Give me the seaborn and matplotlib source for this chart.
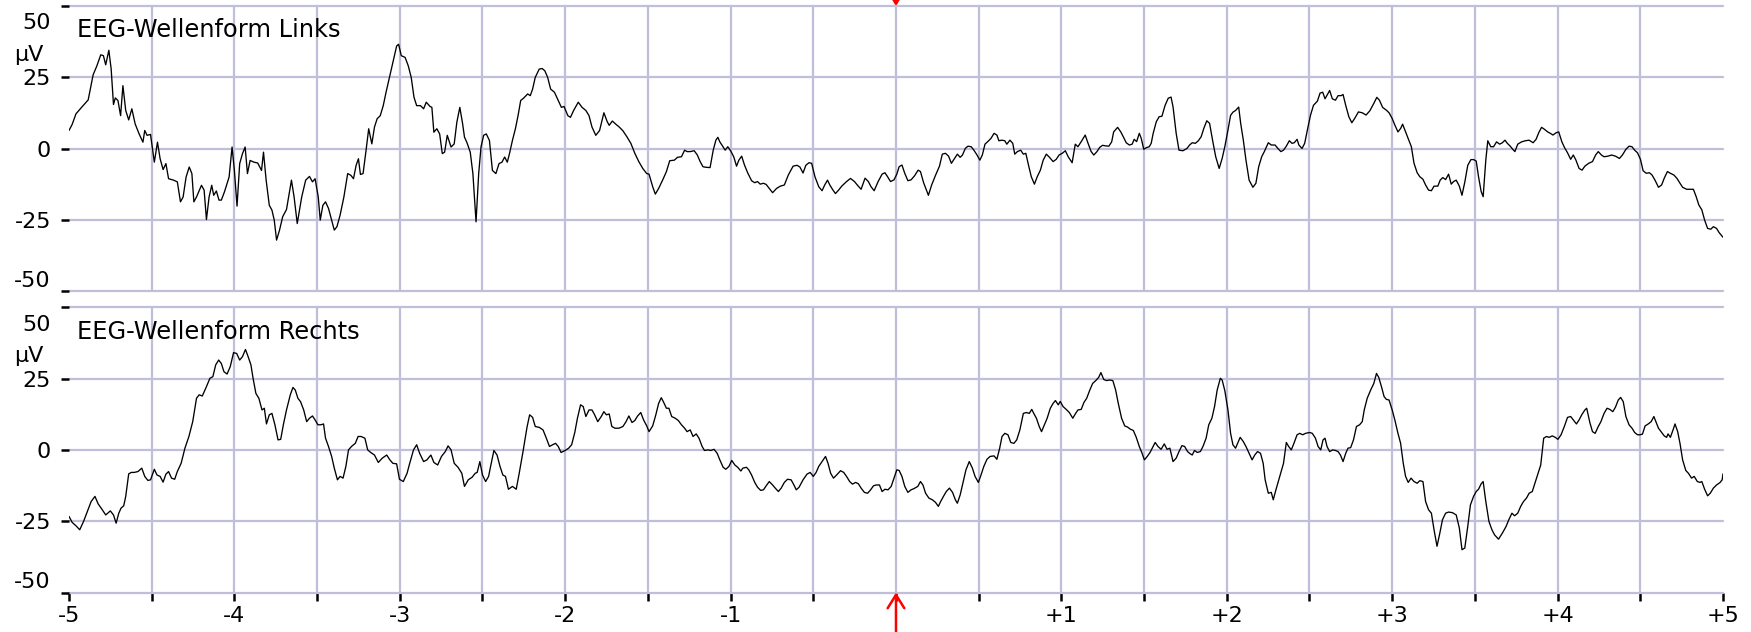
import numpy as np
import pandas as pd
import matplotlib
matplotlib.use("Agg")
import matplotlib.pyplot as plt
import seaborn as sns

# ---------------- data (time in s, amplitude in µV) ----------------
links_time = [
    -5.000, -4.981, -4.958, -4.924, -4.884, -4.854, -4.831, -4.808, -4.792, -4.778,
    -4.759, -4.745, -4.731, -4.720, -4.704, -4.688, -4.674, -4.657, -4.639, -4.620,
    -4.600, -4.576, -4.553, -4.542, -4.528, -4.507, -4.484, -4.465, -4.449, -4.431,
    -4.414, -4.398, -4.368, -4.345, -4.326, -4.310, -4.292, -4.273, -4.257, -4.245,
    -4.229, -4.199, -4.183, -4.169, -4.153, -4.137, -4.125, -4.109, -4.093, -4.079,
    -4.060, -4.032, -4.014, -4.000, -3.984, -3.968, -3.951, -3.935, -3.921, -3.905,
    -3.882, -3.859, -3.836, -3.824, -3.808, -3.789, -3.773, -3.759, -3.745, -3.727,
    -3.708, -3.685, -3.655, -3.639, -3.620, -3.593, -3.569, -3.546, -3.528, -3.512,
    -3.493, -3.481, -3.465, -3.449, -3.431, -3.412, -3.396, -3.380, -3.361, -3.338,
    -3.315, -3.296, -3.280, -3.264, -3.250, -3.238, -3.222, -3.204, -3.188, -3.169,
    -3.153, -3.137, -3.118, -3.100, -3.083, -3.060, -3.037, -3.019, -3.007, -2.991,
    -2.968, -2.949, -2.931, -2.914, -2.898, -2.875, -2.856, -2.840, -2.817, -2.806,
    -2.794, -2.776, -2.759, -2.743, -2.729, -2.713, -2.690, -2.671, -2.655, -2.637,
    -2.620, -2.609, -2.593, -2.574, -2.558, -2.539, -2.523, -2.509, -2.493, -2.477,
    -2.458, -2.440, -2.419, -2.400, -2.382, -2.366, -2.350, -2.338, -2.319, -2.301,
    -2.285, -2.269, -2.250, -2.227, -2.211, -2.197, -2.181, -2.157, -2.139, -2.123,
    -2.106, -2.088, -2.065, -2.042, -2.023, -2.007, -1.984, -1.968, -1.949, -1.921,
    -1.898, -1.875, -1.856, -1.838, -1.815, -1.792,
    -1.766, -1.746, -1.734, -1.715, -1.694, -1.675, -1.651, -1.627, -1.603, -1.579,
    -1.555, -1.531, -1.507, -1.493, -1.471, -1.455, -1.435, -1.411, -1.388, -1.368,
    -1.340, -1.321, -1.297, -1.278, -1.263, -1.244, -1.220, -1.201, -1.184, -1.167,
    -1.148, -1.124, -1.105, -1.089, -1.077, -1.065, -1.048, -1.033, -1.017, -1.000,
    -0.981, -0.964, -0.950, -0.933, -0.916, -0.897, -0.873, -0.854, -0.837, -0.821,
    -0.801, -0.785, -0.766, -0.746, -0.722, -0.699, -0.675, -0.651, -0.622, -0.598,
    -0.581, -0.562, -0.545, -0.526, -0.510, -0.490, -0.467, -0.447, -0.431, -0.414,
    -0.400, -0.383, -0.366, -0.347, -0.328, -0.299, -0.275, -0.251, -0.234, -0.211,
    -0.187, -0.167, -0.151, -0.132, -0.108, -0.084, -0.067, -0.053, -0.033, -0.012,
    0.005, 0.019, 0.036, 0.053, 0.072, 0.091, 0.112, 0.134, 0.148, 0.167,
    0.196, 0.215, 0.239, 0.263, 0.280, 0.299, 0.318, 0.335, 0.354, 0.371,
    0.388, 0.402, 0.419, 0.435, 0.455, 0.471, 0.490, 0.507, 0.522, 0.538,
    0.555, 0.574, 0.593, 0.610, 0.622, 0.641, 0.658, 0.670, 0.689, 0.706,
    0.718, 0.734, 0.754, 0.770, 0.785, 0.801, 0.818, 0.837, 0.854, 0.873,
    0.890, 0.909, 0.928, 0.950, 0.969, 0.986, 1.005, 1.024, 1.041, 1.065,
    1.084, 1.100, 1.120, 1.144, 1.160, 1.180, 1.196, 1.215, 1.232, 1.249,
    1.268, 1.287, 1.304, 1.316, 1.340, 1.359, 1.376, 1.392, 1.411, 1.428,
    1.440, 1.455, 1.471, 1.483, 1.498, 1.514, 1.531, 1.543, 1.555, 1.574,
    1.591, 1.608, 1.627, 1.646, 1.663, 1.675, 1.694, 1.711,
    1.735, 1.759, 1.775, 1.791, 1.810, 1.828, 1.845, 1.861, 1.879, 1.896,
    1.914, 1.933, 1.954, 1.972, 1.988, 2.007, 2.023, 2.037, 2.053, 2.072,
    2.084, 2.100, 2.116, 2.135, 2.158, 2.176, 2.193, 2.211, 2.227, 2.251,
    2.269, 2.292, 2.309, 2.327, 2.343, 2.360, 2.378, 2.394, 2.408, 2.425,
    2.436, 2.455, 2.471, 2.487, 2.506, 2.524, 2.548, 2.564, 2.580, 2.594,
    2.610, 2.622, 2.638, 2.657, 2.673, 2.691, 2.703, 2.719, 2.738, 2.756,
    2.773, 2.796, 2.819, 2.842, 2.865, 2.889, 2.907, 2.923, 2.942, 2.965,
    2.981, 3.000, 3.016, 3.035, 3.051, 3.063, 3.081, 3.097, 3.116, 3.132,
    3.151, 3.167, 3.186, 3.202, 3.220, 3.237, 3.253, 3.276, 3.290, 3.306,
    3.323, 3.341, 3.357, 3.371, 3.387, 3.406, 3.422, 3.439, 3.457, 3.476,
    3.492, 3.508, 3.522, 3.538, 3.550, 3.566, 3.578, 3.596, 3.613, 3.631,
    3.650, 3.666, 3.682, 3.696, 3.712, 3.729, 3.742, 3.759, 3.782, 3.805,
    3.828, 3.852, 3.870, 3.886, 3.903, 3.921, 3.940, 3.956, 3.972, 3.991,
    4.007, 4.026, 4.042, 4.060, 4.079, 4.095, 4.111, 4.130, 4.148, 4.165,
    4.188, 4.211, 4.230, 4.246, 4.265, 4.281, 4.304, 4.327, 4.350, 4.374,
    4.392, 4.413, 4.432, 4.450, 4.466, 4.483, 4.501, 4.517, 4.536, 4.555,
    4.571, 4.589, 4.610, 4.629, 4.645, 4.664, 4.682, 4.703, 4.722, 4.738,
    4.756, 4.780, 4.803, 4.821, 4.838, 4.854, 4.872, 4.889, 4.907, 4.926,
    4.942, 4.961, 4.977, 5.000,
]

links_uv = [
    6.4, 8.5, 12.2, 14.5, 17.1, 25.9, 29.1, 32.9, 32.6, 29.4,
    34.5, 27.9, 15.5, 17.8, 16.9, 11.6, 22.1, 13.4, 10.1, 14.0,
    8.7, 5.2, 2.3, 6.4, 4.7, 5.0, -4.7, 2.3, -3.5, -7.3,
    -5.2, -10.5, -11.0, -11.6, -18.6, -16.9, -9.9, -6.4, -8.7, -18.6,
    -16.9, -12.8, -14.5, -24.8, -16.9, -12.8, -16.3, -14.8, -18.0, -18.0,
    -15.1, -9.9, 0.6, -7.6, -20.1, -5.2, -1.7, 0.6, -8.7, -4.1,
    -4.7, -5.0, -7.6, -1.2, -11.0, -19.8, -21.5, -25.0, -32.0, -28.5,
    -23.8, -21.3, -11.0, -16.9, -26.2, -16.9, -11.0, -9.7, -11.6, -10.5,
    -16.9, -25.0, -19.8, -18.6, -20.9, -25.0, -28.5, -27.3, -23.3, -16.9,
    -8.7, -9.3, -10.5, -5.8, -3.5, -9.0, -8.7, -0.6, 7.0, 1.7,
    7.6, 10.5, 11.6, 15.1, 19.8, 25.6, 31.4, 36.0, 36.6, 32.6,
    32.0, 29.1, 25.0, 18.0, 15.1, 15.1, 14.0, 16.3, 14.8, 14.5,
    5.8, 7.0, 5.2, -1.7, -1.2, 4.7, 0.6, 1.7, 9.3, 14.5,
    8.7, 4.1, 2.0, -1.2, -8.7, -25.6, -8.7, 0.6, 4.7, 5.2,
    2.9, -7.6, -8.7, -5.2, -4.7, -2.9, -4.7, -2.0, 2.9, 7.0,
    11.6, 16.9, 17.8, 19.2, 18.6, 20.9, 25.0, 27.9, 28.1, 27.3,
    25.0, 20.9, 19.8, 16.9, 14.5, 14.8, 11.6, 11.0, 13.4, 16.3,
    14.5, 13.4, 11.6, 7.6, 4.7, 6.4,
    12.6, 9.5, 8.2, 9.7, 8.6, 7.7, 6.3, 4.2, 1.9, -1.6,
    -4.5, -6.9, -8.7, -8.9, -13.3, -15.9, -13.9, -11.0, -8.0, -4.2,
    -4.0, -3.0, -2.8, -0.5, -1.0, -1.0, -0.7, -2.2, -4.5, -6.3,
    -6.5, -6.6, -0.5, 3.0, 4.0, 2.4, 0.9, -0.5, 0.7, -0.7,
    -2.8, -6.1, -4.0, -2.6, -5.7, -8.4, -11.2, -11.9, -11.5, -12.4,
    -12.1, -12.5, -13.9, -15.4, -13.9, -13.1, -12.7, -9.2, -6.1, -5.8,
    -6.4, -8.5, -5.8, -4.9, -5.1, -9.8, -13.3, -14.7, -12.7, -11.0,
    -12.7, -14.3, -15.7, -14.5, -13.1, -11.5, -10.4, -11.5, -12.7, -14.2,
    -10.3, -11.5, -13.3, -14.7, -11.5, -8.9, -8.4, -9.6, -11.5, -10.9,
    -8.9, -6.3, -5.7, -8.6, -11.2, -10.9, -9.5, -7.5, -8.0, -11.9,
    -16.3, -12.8, -9.3, -6.1, -1.9, -1.6, -2.6, -5.1, -3.4, -1.9,
    -3.0, -2.2, 0.1, 0.9, 0.7, -0.5, -2.2, -4.0, -2.2, 1.6,
    2.5, 3.6, 5.4, 4.8, 2.8, 3.0, 2.8, 1.6, 3.0, 1.9,
    -1.9, -1.0, -0.5, -1.9, -1.6, -5.7, -9.8, -12.4, -9.8, -7.5,
    -4.0, -1.9, -3.0, -4.5, -3.7, -2.2, -1.6, -0.7, -2.8, -4.9,
    1.6, 0.7, 2.5, 4.8, 2.1, -1.0, -2.2, -1.0, 0.5, 1.2,
    1.0, 0.9, 2.4, 5.9, 7.5, 5.9, 4.0, 2.1, 1.3, 1.6,
    3.3, 2.5, 5.4, 3.6, -0.2, 0.4, 0.7, 1.9, 5.4, 9.5,
    11.2, 11.4, 15.2, 17.7, 18.1, 14.7, 5.4, -0.5,
    -0.7, 0.1, 1.3, 2.1, 1.9, 2.8, 4.2, 7.1, 9.8, 8.9,
    3.0, -2.8, -6.9, -3.4, 0.7, 6.5, 11.7, 12.8, 13.4, 14.6,
    8.9, 3.0, -4.0, -11.0, -13.5, -12.1, -6.3, -2.8, -1.0, 2.1,
    1.3, 1.3, 0.1, -1.0, -0.5, 0.9, 2.8, 1.9, 2.1, 3.3,
    1.3, 0.1, 1.9, 6.5, 11.7, 15.2, 16.7, 19.5, 19.8, 17.5,
    19.2, 20.4, 17.5, 17.0, 18.6, 18.6, 19.0, 15.2, 11.2, 9.1,
    10.6, 12.9, 12.6, 11.8, 13.3, 15.9, 18.0, 17.0, 14.5, 13.5,
    12.6, 10.6, 8.3, 5.9, 7.1, 8.6, 5.9, 3.6, 0.7, -5.1,
    -8.4, -9.8, -10.7, -12.7, -14.5, -14.7, -13.1, -13.1, -11.0, -10.1,
    -10.8, -8.9, -12.4, -11.5, -11.0, -13.1, -16.3, -11.7, -5.8, -3.8,
    -3.8, -4.3, -9.8, -15.0, -16.8, -4.0, 2.8, 0.7, 0.7, 2.4,
    1.6, 2.1, 3.0, 1.9, 1.0, -0.2, -1.0, 1.6, 2.4, 2.8,
    3.0, 2.1, 3.3, 5.6, 7.5, 6.8, 5.9, 5.4, 4.8, 5.6,
    5.9, 2.4, 0.4, -1.4, -3.7, -2.2, -4.0, -6.9, -7.5, -6.1,
    -5.1, -4.5, -2.2, -1.0, -2.2, -2.8, -2.6, -2.2, -2.6, -3.4,
    -2.2, -0.2, 0.9, 0.7, -0.5, -1.4, -3.7, -7.7, -8.6, -8.4,
    -9.2, -11.0, -13.5, -12.7, -10.3, -8.0, -8.6, -9.2, -10.4, -11.9,
    -13.5, -14.2, -14.2, -14.2, -16.8, -19.7, -21.4, -25.0, -27.9, -28.2,
    -27.3, -27.9, -29.4, -31.0,
]

rechts_time = [
    -5.000, -4.981, -4.958, -4.935, -4.912, -4.889, -4.866, -4.843, -4.824, -4.801,
    -4.778, -4.750, -4.731, -4.715, -4.699, -4.685, -4.669, -4.657, -4.639, -4.623,
    -4.606, -4.583, -4.560, -4.542, -4.523, -4.507, -4.484, -4.468, -4.449, -4.431,
    -4.414, -4.398, -4.380, -4.361, -4.345, -4.322, -4.299, -4.275, -4.252, -4.229,
    -4.213, -4.194, -4.171, -4.148, -4.130, -4.113, -4.095, -4.079, -4.063, -4.044,
    -4.025, -4.005, -3.986, -3.968, -3.951, -3.933, -3.917, -3.900, -3.887, -3.870,
    -3.852, -3.833, -3.819, -3.806, -3.789, -3.773, -3.755, -3.736, -3.720, -3.704,
    -3.685, -3.662, -3.646, -3.632, -3.616, -3.600, -3.581, -3.563, -3.546, -3.528,
    -3.512, -3.495, -3.477, -3.461, -3.449, -3.431, -3.412, -3.396, -3.377, -3.361,
    -3.343, -3.326, -3.310, -3.292, -3.269, -3.252, -3.234, -3.211, -3.194, -3.176,
    -3.153, -3.130, -3.106, -3.079, -3.060, -3.042, -3.019, -3.002, -2.979, -2.956,
    -2.940, -2.917, -2.898, -2.880, -2.856, -2.836, -2.812, -2.794, -2.771, -2.748,
    -2.725, -2.708, -2.690, -2.671, -2.648, -2.625, -2.609, -2.586, -2.563, -2.544,
    -2.532, -2.516, -2.500, -2.481, -2.463, -2.451, -2.431, -2.412, -2.394, -2.377,
    -2.361, -2.343, -2.319, -2.296, -2.278, -2.255, -2.231, -2.215, -2.197, -2.181,
    -2.157, -2.134, -2.116, -2.095, -2.076, -2.058, -2.042, -2.025, -2.000, -1.979,
    -1.961, -1.942, -1.926, -1.907, -1.891, -1.875, -1.856, -1.838, -1.822, -1.803,
    -1.782, -1.766, -1.751, -1.734, -1.718, -1.699, -1.675, -1.651, -1.632, -1.615,
    -1.596, -1.579, -1.562, -1.543, -1.526, -1.507, -1.493, -1.471, -1.452, -1.435,
    -1.419, -1.404, -1.388, -1.373, -1.356, -1.335, -1.316, -1.297, -1.278, -1.263,
    -1.244, -1.227, -1.208, -1.191, -1.172, -1.158, -1.136, -1.120, -1.100, -1.081,
    -1.065, -1.045, -1.029, -1.010, -0.993, -0.974, -0.957, -0.938, -0.926, -0.904,
    -0.890, -0.873, -0.854, -0.837, -0.818, -0.801, -0.785, -0.766, -0.746, -0.730,
    -0.711, -0.694, -0.675, -0.656, -0.634, -0.617, -0.603, -0.586, -0.562, -0.538,
    -0.519, -0.500, -0.483, -0.467, -0.447, -0.426, -0.411, -0.395, -0.378, -0.359,
    -0.335, -0.316, -0.299, -0.280, -0.263, -0.244, -0.227, -0.211, -0.191, -0.172,
    -0.156, -0.136, -0.120, -0.100, -0.084, -0.067, -0.048, -0.029, -0.012, 0.005,
    0.019, 0.036, 0.053, 0.072, 0.091, 0.108, 0.132, 0.148, 0.163, 0.179,
    0.199, 0.220, 0.239, 0.256, 0.270, 0.287, 0.304, 0.323, 0.342, 0.359,
    0.371, 0.388, 0.407, 0.423, 0.443, 0.462, 0.478, 0.498, 0.514, 0.531,
    0.550, 0.569, 0.593, 0.610, 0.627, 0.641, 0.658, 0.677, 0.694, 0.713,
    0.730, 0.749, 0.770, 0.789, 0.806, 0.821, 0.833, 0.849, 0.866, 0.880,
    0.897, 0.914, 0.933, 0.950, 0.964, 0.981, 0.993, 1.010, 1.029, 1.048,
    1.069, 1.084, 1.100, 1.120, 1.136, 1.153, 1.172, 1.189, 1.208, 1.225,
    1.239, 1.256, 1.273, 1.292, 1.311, 1.328, 1.344, 1.364, 1.383, 1.400,
    1.416, 1.435, 1.452, 1.471, 1.488, 1.502, 1.519, 1.536, 1.555, 1.567,
    1.584, 1.603, 1.622, 1.639, 1.656, 1.675, 1.694, 1.711,
    1.729, 1.745, 1.763, 1.775, 1.791, 1.805, 1.821, 1.840, 1.856, 1.875,
    1.891, 1.910, 1.926, 1.942, 1.961, 1.972, 1.988, 2.007, 2.023, 2.037,
    2.053, 2.070, 2.081, 2.100, 2.116, 2.135, 2.153, 2.169, 2.186, 2.204,
    2.220, 2.232, 2.251, 2.269, 2.281, 2.297, 2.320, 2.343, 2.360, 2.374,
    2.390, 2.406, 2.425, 2.441, 2.459, 2.476, 2.501, 2.517, 2.536, 2.552,
    2.568, 2.582, 2.594, 2.606, 2.622, 2.640, 2.657, 2.673, 2.687, 2.703,
    2.719, 2.733, 2.749, 2.766, 2.784, 2.803, 2.819, 2.831, 2.849, 2.870,
    2.889, 2.905, 2.919, 2.935, 2.951, 2.965, 2.981, 3.000, 3.016, 3.035,
    3.051, 3.067, 3.081, 3.097, 3.114, 3.132, 3.151, 3.167, 3.186, 3.202,
    3.220, 3.237, 3.253, 3.271, 3.288, 3.304, 3.323, 3.341, 3.364, 3.387,
    3.406, 3.422, 3.439, 3.457, 3.473, 3.492, 3.508, 3.522, 3.538, 3.550,
    3.566, 3.585, 3.603, 3.619, 3.643, 3.666, 3.689, 3.705, 3.724, 3.740,
    3.759, 3.777, 3.794, 3.812, 3.828, 3.847, 3.863, 3.879, 3.898, 3.916,
    3.933, 3.949, 3.968, 3.986, 4.002, 4.021, 4.042, 4.060, 4.079, 4.095,
    4.114, 4.130, 4.146, 4.165, 4.176, 4.195, 4.211, 4.227, 4.246, 4.262,
    4.281, 4.299, 4.316, 4.334, 4.350, 4.367, 4.381, 4.397, 4.413, 4.432,
    4.450, 4.466, 4.483, 4.497, 4.513, 4.529, 4.548, 4.566, 4.582, 4.594,
    4.610, 4.629, 4.645, 4.659, 4.668, 4.682, 4.698, 4.710, 4.726, 4.740,
    4.756, 4.775, 4.791, 4.810, 4.826, 4.845, 4.861, 4.872, 4.889, 4.907,
    4.923, 4.942, 4.961, 4.981, 4.995, 5.000,
]

rechts_uv = [
    -23.3, -25.4, -26.6, -28.0, -25.1, -21.6, -18.1, -16.3, -18.9, -20.8,
    -22.8, -21.4, -22.8, -25.7, -22.2, -20.4, -19.6, -16.3, -8.4, -7.9,
    -7.9, -7.6, -6.4, -9.3, -10.7, -10.5, -6.8, -8.8, -9.3, -11.3,
    -8.5, -7.6, -9.9, -10.3, -7.6, -4.7, 0.6, 4.7, 9.9, 18.1,
    19.3, 18.9, 21.9, 25.1, 25.7, 29.8, 31.5, 30.3, 27.4, 26.6,
    29.2, 34.1, 33.8, 31.5, 32.7, 35.2, 32.7, 29.8, 25.1, 19.8,
    18.1, 14.0, 14.6, 9.1, 12.3, 12.8, 8.8, 3.5, 3.7, 8.8,
    14.0, 19.3, 21.9, 21.0, 18.1, 16.9, 14.0, 9.9, 11.1, 11.9,
    10.5, 8.8, 8.8, 9.1, 4.1, 1.2, -2.3, -6.4, -10.5, -9.3,
    -9.9, -5.8, 0.0, 1.2, 2.3, 4.7, 4.7, 4.1, 0.0, -0.9,
    -1.8, -4.4, -2.9, -1.8, -3.5, -4.7, -4.9, -10.3, -11.1, -8.2,
    -4.7, 0.0, 1.8, -1.2, -4.1, -3.5, -1.8, -4.4, -5.3, -2.3,
    -0.6, 1.4, 0.0, -4.7, -6.1, -8.2, -12.8, -10.5, -9.6, -8.2,
    -7.9, -4.1, -8.8, -11.1, -9.3, -5.8, -0.2, -1.8, -5.8, -8.8,
    -9.3, -13.8, -12.8, -13.8, -8.2, -0.6, 7.9, 12.3, 11.4, 8.2,
    7.9, 7.0, 4.4, 1.2, 1.8, 2.3, 1.2, -0.9, -0.2, 0.6,
    1.8, 6.1, 11.1, 15.8, 15.2, 11.7, 14.0, 14.0, 12.3, 9.9,
    11.7, 13.4, 12.3, 12.6, 8.2, 7.6, 7.6, 8.2, 9.9, 11.9,
    9.6, 10.3, 11.9, 13.1, 10.5, 8.4, 6.4, 8.4, 12.3, 16.3,
    18.3, 16.6, 14.6, 14.6, 11.7, 11.1, 10.3, 8.8, 7.6, 6.4,
    7.0, 4.7, 5.6, 4.1, 1.2, -0.2, 0.0, -0.2, 0.2, -1.2,
    -3.5, -6.1, -6.8, -5.8, -3.7, -5.3, -6.1, -7.4, -6.4, -6.1,
    -7.0, -8.8, -11.4, -13.1, -14.2, -14.0, -12.6, -11.1, -12.3, -13.4,
    -14.6, -13.4, -11.4, -10.3, -10.5, -12.3, -14.0, -13.1, -10.5, -8.5,
    -7.9, -9.3, -7.9, -5.8, -4.1, -2.3, -4.7, -8.2, -9.9, -8.8,
    -7.3, -7.9, -9.3, -11.1, -12.0, -11.4, -11.9, -13.4, -14.9, -15.2,
    -14.2, -12.6, -12.3, -12.3, -14.6, -13.8, -14.0, -12.8, -9.9, -7.0,
    -7.2, -9.3, -12.8, -14.9, -14.0, -13.6, -12.8, -11.1, -12.3, -15.2,
    -16.9, -17.5, -18.4, -19.8, -18.1, -16.3, -14.6, -13.4, -14.9, -17.5,
    -18.7, -15.8, -11.1, -7.0, -4.1, -6.4, -9.3, -11.4, -8.8, -5.8,
    -3.3, -2.3, -2.1, -3.3, 0.6, 4.7, 5.8, 5.3, 2.6, 2.3,
    3.5, 7.0, 12.8, 13.1, 12.8, 14.2, 12.8, 11.1, 8.2, 6.4,
    8.8, 11.1, 14.6, 16.3, 17.3, 15.8, 17.0, 15.2, 14.2, 13.1,
    11.1, 12.6, 14.0, 14.2, 16.6, 18.1, 21.0, 23.3, 24.3, 25.4,
    27.1, 24.7, 24.3, 24.5, 24.3, 21.0, 16.3, 11.1, 8.4, 8.0,
    7.3, 6.8, 4.5, 1.2, -1.2, -3.5, -2.3, -0.9, 1.2, 2.6,
    1.2, 0.2, 2.1, 0.2, 0.6, -4.1, -2.9, -0.6,
    1.5, 1.2, -0.6, -1.2, -1.8, -0.2, -0.9, -0.6, 1.2, 4.1,
    8.8, 11.1, 15.2, 21.0, 25.1, 24.5, 20.8, 14.0, 5.8, 1.8,
    0.6, 2.9, 4.4, 2.9, 1.2, -1.2, -3.5, -1.8, -0.6, -1.2,
    -4.7, -10.5, -15.2, -14.9, -17.5, -14.0, -9.3, -4.7, 2.6, 1.2,
    0.0, 2.3, 5.3, 5.8, 5.3, 5.8, 6.1, 5.8, 4.1, 1.2,
    0.0, 3.5, 4.1, 1.2, -0.6, 0.0, -0.2, -0.6, -1.8, -4.1,
    -1.2, 0.6, 0.8, 3.5, 8.2, 8.8, 9.9, 14.0, 18.1, 21.0,
    23.3, 26.8, 25.4, 22.2, 18.7, 17.7, 17.5, 14.0, 10.5, 5.8,
    2.3, -4.7, -9.3, -11.4, -9.9, -11.1, -11.7, -10.8, -11.1, -18.1,
    -21.0, -22.2, -28.0, -33.8, -29.2, -24.5, -22.2, -21.8, -22.0, -22.8,
    -27.4, -35.0, -34.4, -26.8, -19.3, -16.3, -14.6, -13.8, -11.9, -11.1,
    -18.1, -25.1, -28.0, -29.8, -31.3, -29.2, -26.8, -24.5, -22.2, -23.1,
    -22.2, -19.8, -18.1, -16.9, -15.2, -14.6, -11.7, -8.8, -5.3, 4.1,
    4.7, 4.4, 4.9, 4.4, 3.7, 5.3, 8.4, 11.4, 11.7, 10.5,
    9.1, 10.5, 12.3, 14.0, 14.6, 9.6, 6.4, 5.8, 8.2, 9.9,
    12.8, 14.6, 14.2, 13.4, 15.0, 17.5, 18.4, 16.9, 11.7, 8.8,
    7.6, 6.1, 5.3, 5.3, 5.5, 8.4, 9.1, 9.9, 11.7, 9.9,
    7.6, 6.1, 4.9, 4.4, 5.6, 4.4, 7.0, 9.1, 6.4, 2.3,
    -3.5, -7.2, -8.2, -9.9, -9.3, -11.1, -11.4, -11.1, -13.8, -16.1,
    -15.2, -13.4, -12.3, -11.5, -10.5, -8.4,
]

panel_titles = ["EEG-Wellenform Links", "EEG-Wellenform Rechts"]
y_ticks = [-50, -25, 0, 25, 50]
y_tick_labels = ["", "-25", "0", "25", ""]
x_ticks = [-5.0, -4.5, -4.0, -3.5, -3.0, -2.5, -2.0, -1.5, -1.0, -0.5, 0.0,
           0.5, 1.0, 1.5, 2.0, 2.5, 3.0, 3.5, 4.0, 4.5, 5.0]
x_tick_labels = ["-5", "", "-4", "", "-3", "", "-2", "", "-1", "", "",
                 "", "+1", "", "+2", "", "+3", "", "+4", "", "+5"]
unit_label = "µV"
marker_time = 0.0

# ---------------- styling ----------------
sns.set_theme(style="white")
plt.rcParams["font.family"] = ["DejaVu Sans"]

GRID = "#bfbfdb"
TICK_FS = 16
TITLE_FS = 17.4

fig = plt.figure(figsize=(17.51, 6.32), dpi=100)
left, width = 0.0394, 0.9446
ax_top = fig.add_axes([left, 0.5388, width, 0.4517])
ax_bot = fig.add_axes([left, 0.0625, width, 0.4513])

panels = [
    (ax_top, links_time, links_uv, panel_titles[0], False),
    (ax_bot, rechts_time, rechts_uv, panel_titles[1], True),
]

for ax, t, v, title, show_x in panels:
    df = pd.DataFrame({"t": t, "uv": v})
    sns.lineplot(data=df, x="t", y="uv", ax=ax, color="black", linewidth=0.95,
                 estimator=None, sort=False, legend=False, zorder=3)
    ax.set_xlim(-5, 5)
    ax.set_ylim(-50, 50)
    ax.set_xlabel("")
    ax.set_ylabel("")
    for s in ax.spines.values():
        s.set_visible(False)
    ax.set_facecolor("white")

    ax.set_yticks(y_ticks)
    ax.set_yticklabels(y_tick_labels)
    ax.set_xticks(x_ticks)
    ax.set_xticklabels(x_tick_labels if show_x else [""] * len(x_ticks))

    ax.tick_params(axis="y", left=True, length=6, width=1.8, color="black",
                   pad=7, labelsize=TICK_FS, labelcolor="black")
    ax.tick_params(axis="x", bottom=show_x, length=6, width=1.8, color="black",
                   pad=4, labelsize=TICK_FS, labelcolor="black")

    ax.grid(True, color=GRID, linewidth=1.6)
    ax.set_axisbelow(True)

    ytr = ax.get_yaxis_transform()
    ax.annotate(str(y_ticks[-1]), xy=(0, y_ticks[-1]), xycoords=ytr,
                xytext=(-13, -12.5), textcoords="offset points",
                ha="right", va="center", fontsize=TICK_FS, color="black")
    ax.annotate(unit_label, xy=(0, y_ticks[-1]), xycoords=ytr,
                xytext=(-18.5, -35), textcoords="offset points",
                ha="right", va="center", fontsize=TICK_FS, color="black")
    ax.annotate(str(y_ticks[0]), xy=(0, y_ticks[0]), xycoords=ytr,
                xytext=(-13, 7.5), textcoords="offset points",
                ha="right", va="center", fontsize=TICK_FS, color="black")
    ax.annotate(title, xy=(0, 1), xycoords="axes fraction",
                xytext=(5.5, -17.5), textcoords="offset points",
                ha="left", va="center", fontsize=TITLE_FS, color="black")

# red time marker arrows
arrow_kw = dict(arrowstyle="->,head_length=0.4,head_width=0.25", color="red",
                lw=1.8, mutation_scale=24, shrinkA=0, shrinkB=0)
ax_top.annotate("", xy=(marker_time, 50), xycoords="data",
                xytext=(0, 40), textcoords="offset points",
                arrowprops=arrow_kw, annotation_clip=False)
ax_bot.annotate("", xy=(marker_time, -50), xycoords="data",
                xytext=(0, -40), textcoords="offset points",
                arrowprops=arrow_kw, annotation_clip=False)

# grid details: no vertical lines at the x limits, full-width lines at y limits
for ax in (ax_top, ax_bot):
    for tick in ax.xaxis.get_major_ticks():
        if abs(abs(tick.get_loc()) - 5) < 1e-9:
            tick.gridline.set_visible(False)
    for gl in ax.get_ygridlines() + ax.get_xgridlines():
        gl.set_clip_on(False)

fig.savefig("out.png", dpi=100, facecolor="white")
